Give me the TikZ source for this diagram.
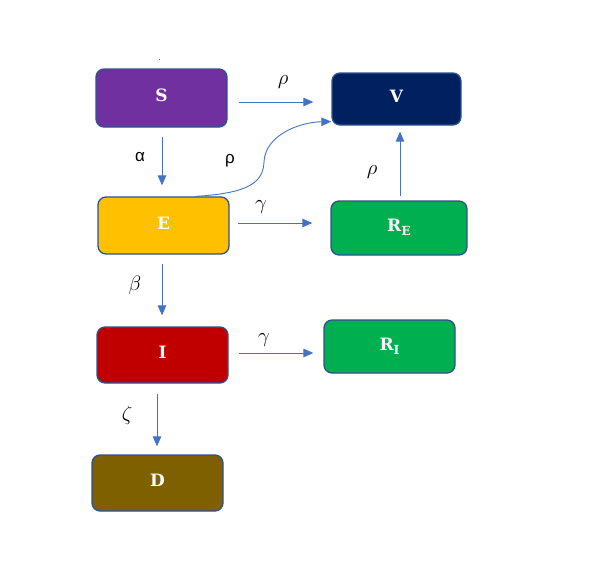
\documentclass[tikz,border=0pt]{standalone}
\usepackage{fontspec}
\setmainfont{Liberation Serif}
\newfontfamily\lsans{Liberation Sans}
\newfontfamily\boxfont{DejaVu Serif}
\usetikzlibrary{arrows.meta}
\definecolor{cS}{HTML}{7030A0}
\definecolor{cV}{HTML}{002060}
\definecolor{cE}{HTML}{FFC000}
\definecolor{cR}{HTML}{00B050}
\definecolor{cI}{HTML}{C00000}
\definecolor{cD}{HTML}{7F6000}
\definecolor{bord}{HTML}{2F528F}
\definecolor{arr}{HTML}{4472C4}
\tikzset{
  box/.style={draw=bord, line width=1.3pt, rounded corners=8pt, text=white,
    font=\boxfont\fontsize{17}{17}\selectfont\bfseries, inner sep=0pt},
  flow/.style={draw=arr, line width=0.9pt, -{Triangle[length=10pt,width=8.5pt]}},
  lab/.style={font=\fontsize{20}{20}\selectfont, inner sep=0pt},
  slab/.style={font=\fontsize{17}{17}\selectfont\lsans, inner sep=0pt},
}
\newcommand{\sub}[2]{#1\raisebox{-4pt}{\fontsize{12.5}{12.5}\selectfont #2}}
\newcommand{\up}[1]{\raisebox{5pt}{#1}}
\begin{document}
\begin{tikzpicture}[x=1pt,y=-1pt]
\useasboundingbox (0,0) rectangle (597,570);
\node[box, fill=cS, minimum width=131pt, minimum height=58pt] (S) at (161.5,98) {\up{S}};
\node[box, fill=cV, minimum width=129pt, minimum height=52pt] (V) at (396.5,99) {\up{V}};
\node[box, fill=cE, minimum width=131pt, minimum height=57pt] (E) at (163.5,225.5) {\up{E}};
\node[box, fill=cR, minimum width=136pt, minimum height=54pt] (RE) at (399,228) {\up{\sub{R}{E}}};
\node[box, fill=cI, minimum width=131pt, minimum height=56pt] (I) at (162.5,355) {\up{I}};
\node[box, fill=cR, minimum width=131pt, minimum height=53pt] (RI) at (389.5,346.5) {\up{\sub{R}{I}}};
\node[box, fill=cD, minimum width=131pt, minimum height=56pt] (D) at (157.5,483) {\up{D}};
\node[font=\fontsize{8}{8}\selectfont, inner sep=0pt] (dot) at (159.5,60) {.};

\draw[flow] ([xshift=11pt,yshift=-4pt]S.east) -- ([xshift=-18pt,yshift=-3pt]V.west);
\draw[flow] ([xshift=0.5pt,yshift=-9pt]S.south) -- ([xshift=-1.5pt,yshift=11pt]E.north);
\draw[flow] ([xshift=32.5pt]E.north) .. controls (250,193) and (263,182) .. (264,162)
  .. controls (265,135) and (300,122) .. ([yshift=4pt]V.south west);
\draw[flow] ([xshift=8pt,yshift=2.5pt]E.east) -- ([xshift=-18pt,yshift=5pt]RE.west);
\draw[flow] ([xshift=1pt,yshift=4pt]RE.north) -- ([xshift=3.5pt,yshift=-6pt]V.south);
\draw[flow] ([xshift=-1.5pt,yshift=-9pt]E.south) -- ([xshift=-0.5pt,yshift=11pt]I.north);
\draw[flow] ([xshift=10pt,yshift=2pt]I.east) -- ([xshift=-10pt,yshift=-6.5pt]RI.west);
\draw[flow] ([xshift=-5.5pt,yshift=-10pt]I.south) -- ([xshift=-0.5pt,yshift=8pt]D.north);

\node[lab] (l1) at (283,82) {$\rho$};
\node[slab] (l2) at (140,157) {α};
\node[slab] (l3) at (230,161) {ρ};
\node[lab] (l4) at (261,207) {$\gamma$};
\node[lab] (l5) at (372,172) {$\rho$};
\node[lab] (l6) at (135,285) {$\beta$};
\node[lab] (l7) at (264,340) {$\gamma$};
\node[lab] (l8) at (127,415) {$\zeta$};
\end{tikzpicture}
\end{document}
